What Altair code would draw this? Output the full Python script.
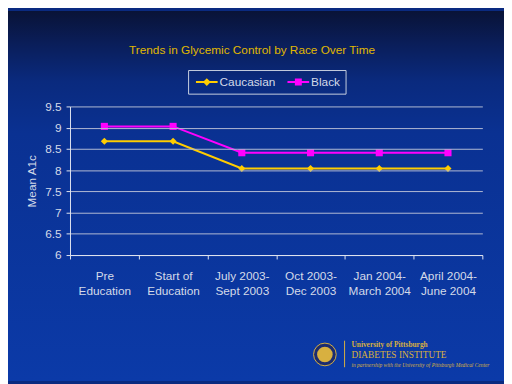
import altair as alt
import pandas as pd

periods = ["Pre|Education", "Start of|Education", "July 2003-|Sept 2003",
           "Oct 2003-|Dec 2003", "Jan 2004-|March 2004", "April 2004-|June 2004"]
caucasian = [8.68, 8.68, 8.04, 8.04, 8.04, 8.04]
black = [9.03, 9.03, 8.41, 8.41, 8.41, 8.41]
series = ["Caucasian", "Black"]
series_colors = ["#FFCC00", "#FF00FF"]
marker_shapes = ["diamond", "square"]
legend_shapes = ["M-0.67,0H3M1.17,-0.42L1.59,0L1.17,0.42L0.75,0Z",
                 "M-0.67,0H3M0.75,-0.42H1.59V0.42H0.75Z"]
y_ticks = [6, 6.5, 7, 7.5, 8, 8.5, 9, 9.5]
chart_title = "Trends in Glycemic Control by Race Over Time"

rows = []
for name, vals, shp in zip(series, [caucasian, black], marker_shapes):
    for p, v in zip(periods, vals):
        rows.append({"period": p, "series": name, "value": v, "marker": shp})
df = pd.DataFrame(rows)

FONT = "Liberation Sans"
TXT = "#D4DAE8"
GOLD = "#D8B040"

x_enc = alt.X("period:N", sort=periods,
              scale=alt.Scale(type="band", paddingInner=0, paddingOuter=0),
              axis=alt.Axis(title=None, labelAngle=0, labelExpr="split(datum.label, '|')",
                            tickBand="extent", labelLineHeight=15.5, labelPadding=12,
                            labelColor=TXT, labelFontSize=12, labelFont=FONT,
                            domainColor="#E0E4F0", tickColor="#E0E4F0", tickSize=4,
                            grid=False, zindex=1))
y_enc = alt.Y("value:Q", scale=alt.Scale(domain=[6, 9.5], nice=False, zero=False),
              axis=alt.Axis(title="Mean A1c", values=y_ticks, format="~g",
                            grid=True, gridColor="#B4BCD4", gridWidth=1,
                            domainColor="#E0E4F0", tickColor="#E0E4F0", tickSize=4,
                            labelColor=TXT, labelFontSize=12, labelFont=FONT, labelPadding=5,
                            titleColor=TXT, titleFontSize=12, titleFont=FONT,
                            titleFontWeight="normal", titlePadding=6, zindex=1))
color_scale = alt.Scale(domain=series, range=series_colors)

one = pd.DataFrame({"k": [0]})

bg = alt.Chart(one).mark_rect(
    fill=alt.LinearGradient(gradient="linear", x1=0, x2=0, y1=0, y2=1, stops=[
        alt.GradientStop(offset=0, color="#091337"),
        alt.GradientStop(offset=0.09, color="#0a1e5a"),
        alt.GradientStop(offset=0.19, color="#0a2a7e"),
        alt.GradientStop(offset=0.33, color="#0a3192"),
        alt.GradientStop(offset=1, color="#0b3aa8"),
    ])
).encode(x=alt.value(-63), x2=alt.value(441), y=alt.value(-97), y2=alt.value(279))

base = alt.Chart(df)

leg = alt.Legend(title=None, orient="none", legendX=120, legendY=-37, direction="horizontal",
                 symbolSize=144, symbolStrokeWidth=2, symbolOpacity=1,
                 labelColor=TXT, labelFontSize=12,
                 labelFont=FONT, labelOffset=13, columnPadding=7, padding=5,
                 strokeColor="#C8D0E0")
legend_layer = base.mark_point(filled=True, opacity=0, strokeWidth=2).encode(
    x=x_enc, y=y_enc,
    color=alt.Color("series:N", scale=color_scale, legend=leg),
    stroke=alt.Stroke("series:N", scale=color_scale, legend=leg),
    shape=alt.Shape("series:N", scale=alt.Scale(domain=series, range=legend_shapes), legend=leg))

lines = base.mark_line(strokeWidth=2).encode(
    x=x_enc, y=y_enc,
    color=alt.Color("series:N", scale=color_scale),
    detail="series:N")
points = base.mark_point(filled=True, opacity=1, size=52).encode(
    x=x_enc, y=y_enc,
    color=alt.Color("series:N", scale=color_scale),
    shape=alt.Shape("marker:N", scale=None, legend=None))

title_mark = alt.Chart(one).mark_text(align="center", baseline="alphabetic", font=FONT,
                                       fontSize=12, color="#E0B800").encode(
    x=alt.value(185), y=alt.value(-53), text=alt.value(chart_title))

seal_outer = alt.Chart(one).mark_point(shape="circle", filled=True, size=531, fill="#1c2c70",
                                        stroke=GOLD, strokeWidth=1, opacity=1).encode(
    x=alt.value(259), y=alt.value(252))
seal_inner = alt.Chart(one).mark_point(shape="circle", filled=True, size=250, fill=GOLD,
                                        opacity=1).encode(x=alt.value(259), y=alt.value(252))
divider = alt.Chart(one).mark_rule(color=GOLD, strokeWidth=1).encode(
    x=alt.value(279), y=alt.value(238), y2=alt.value(265))
t1 = alt.Chart(one).mark_text(align="left", baseline="alphabetic", font="Liberation Serif",
                               fontWeight="bold", fontSize=7.5, color=GOLD).encode(
    x=alt.value(286), y=alt.value(244), text=alt.value("University of Pittsburgh"))
t2 = alt.Chart(one).mark_text(align="left", baseline="alphabetic", font="Liberation Serif",
                               fontSize=9.5, color=GOLD).encode(
    x=alt.value(286), y=alt.value(256), text=alt.value("DIABETES INSTITUTE"))
t3 = alt.Chart(one).mark_text(align="left", baseline="alphabetic", font="Liberation Serif",
                               fontStyle="italic", fontSize=5.5, color=GOLD).encode(
    x=alt.value(286), y=alt.value(265),
    text=alt.value("in partnership with the University of Pittsburgh Medical Center"))

chart = alt.layer(bg, legend_layer, lines, points, title_mark, seal_outer, seal_inner,
                  divider, t1, t2, t3).properties(
    width=419, height=151,
    padding={"left": 63, "top": 97, "right": 22, "bottom": 128},
    autosize=alt.AutoSizeParams(type="none"),
    background="#0a2a80",
).configure_view(strokeWidth=0)

chart.save("out.html", embed_options={"renderer": "svg", "actions": False})
